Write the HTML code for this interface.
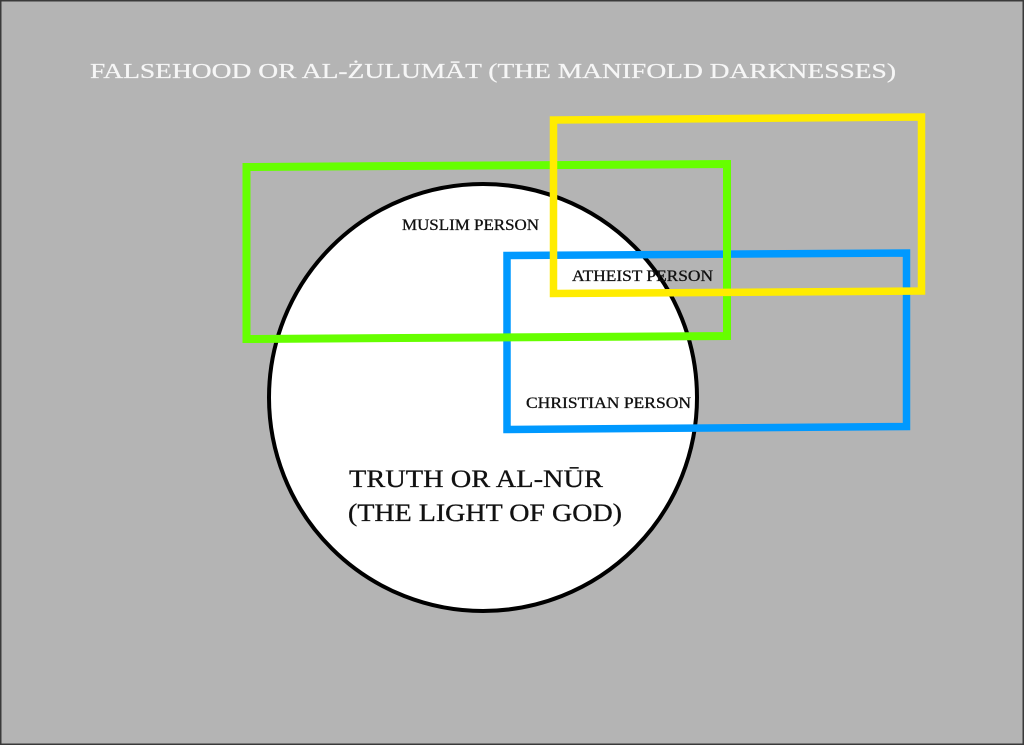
<!DOCTYPE html>
<html>
<head>
<meta charset="utf-8">
<style>
  html, body { margin: 0; padding: 0; background: #b3b3b3; }
  svg { display: block; }
  text { font-family: "Liberation Serif", "DejaVu Serif", serif; }
</style>
</head>
<body>
<svg width="1024" height="745" viewBox="0 0 1024 745" xmlns="http://www.w3.org/2000/svg">
  <rect x="0" y="0" width="1024" height="745" fill="#b4b4b4"/>
  <rect x="0.75" y="0.75" width="1022.5" height="743.5" fill="none" stroke="#3a3a3a" stroke-width="1.5"/>

  <!-- Title -->
  <text x="90" y="78" font-size="21" fill="#f6f6f6" stroke="#f6f6f6" stroke-width="0.25" textLength="806" lengthAdjust="spacingAndGlyphs">FALSEHOOD OR AL-ŻULUMĀT (THE MANIFOLD DARKNESSES)</text>

  <!-- Circle -->
  <ellipse cx="483" cy="397.5" rx="214" ry="213.5" fill="#ffffff" stroke="#000" stroke-width="4"/>

  <!-- Blue rect (bottom) -->
  <polygon points="507,255.5 906.5,253 906.5,426.5 507,429.5" fill="none" stroke="#0099ff" stroke-width="7.5"/>
  <!-- Green rect -->
  <polygon points="246.5,167 727,164 727,336 246.5,339" fill="none" stroke="#66ff00" stroke-width="8"/>
  <!-- Yellow rect (top) -->
  <polygon points="553.5,120 921.5,117 921.5,291 553.5,293.5" fill="none" stroke="#ffec00" stroke-width="7.5"/>

  <!-- Labels -->
  <text x="402" y="230" font-size="15.5" fill="#111" stroke="#111" stroke-width="0.3" textLength="137" lengthAdjust="spacingAndGlyphs">MUSLIM PERSON</text>
  <text x="572" y="281" font-size="15.5" fill="#111" stroke="#111" stroke-width="0.3" textLength="141" lengthAdjust="spacingAndGlyphs">ATHEIST PERSON</text>
  <text x="526" y="408" font-size="15.5" fill="#111" stroke="#111" stroke-width="0.3" textLength="165" lengthAdjust="spacingAndGlyphs">CHRISTIAN PERSON</text>

  <text x="349" y="487" font-size="25.5" fill="#111" stroke="#111" stroke-width="0.3" textLength="254" lengthAdjust="spacingAndGlyphs">TRUTH OR AL-NŪR</text>
  <text x="348" y="521" font-size="25.5" fill="#111" stroke="#111" stroke-width="0.3" textLength="274" lengthAdjust="spacingAndGlyphs">(THE LIGHT OF GOD)</text>
</svg>
</body>
</html>
